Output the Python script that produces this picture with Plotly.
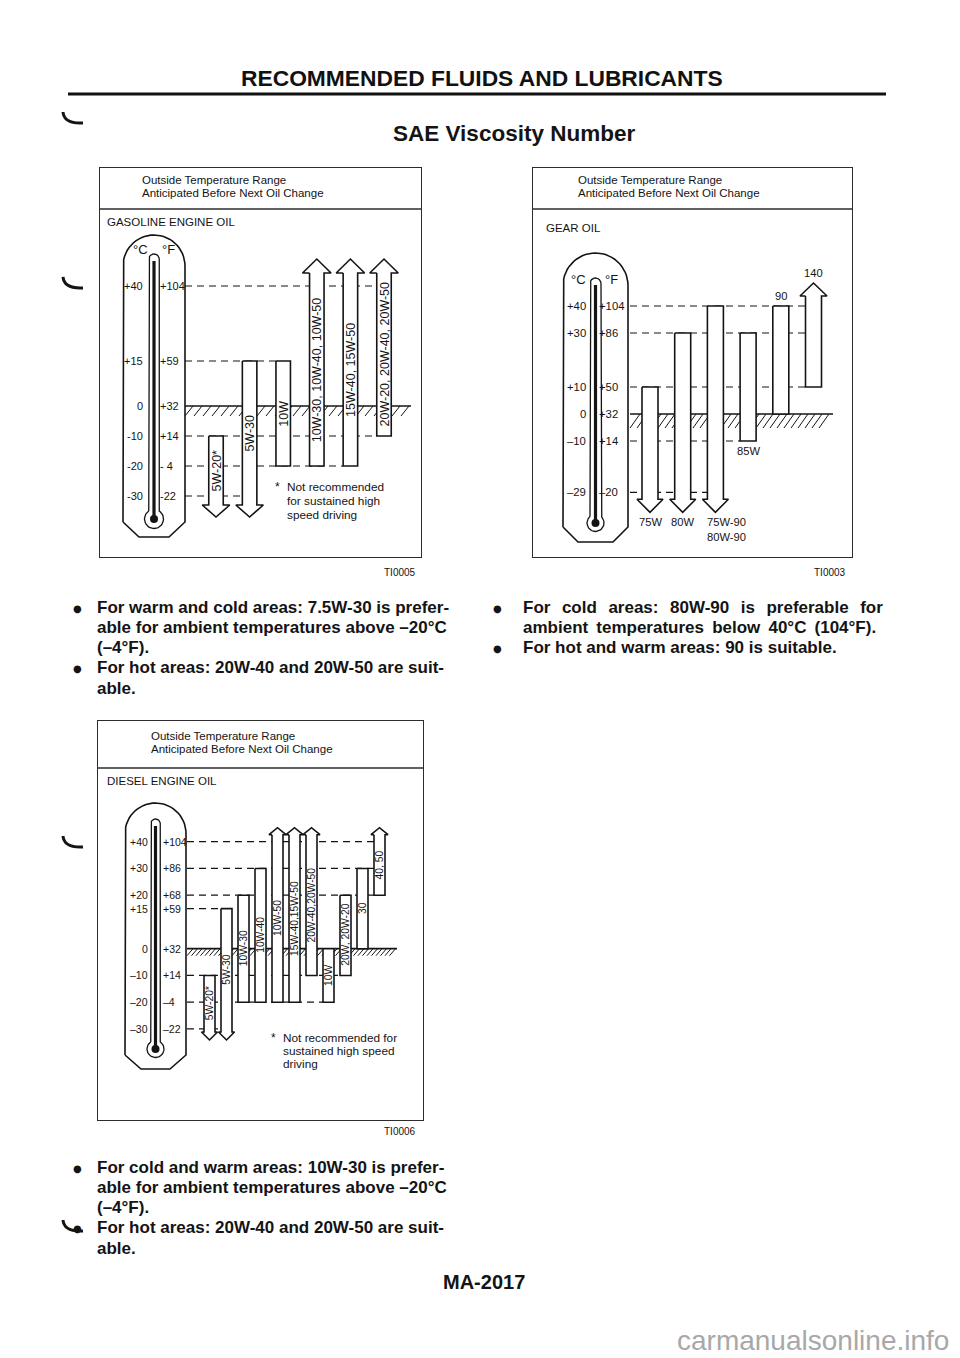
import math
import plotly.graph_objects as go

W, H = 960, 1358
OFF = 8  # the page body adds an 8px margin around the figure
SANS = "Liberation Sans, Arial, Helvetica, sans-serif"
INK = "#141414"

# ======================= DATA =======================
# Gasoline engine oil (temperatures in deg C)
gas_grades = ["5W-20*", "5W-30", "10W", "10W-30, 10W-40, 10W-50",
              "15W-40, 15W-50", "20W-20, 20W-40, 20W-50"]
gas_low_c = [-30, -30, -20, -20, -20, -10]
gas_high_c = [-10, 15, 15, 40, 40, 40]
gas_open_low = [True, True, False, False, False, False]
gas_open_high = [False, False, False, True, True, True]
gas_scale_c = [40, 15, 0, -10, -20, -30]
gas_scale_c_labels = ["+40", "+15", "0", "-10", "-20", "-30"]
gas_scale_f_labels = ["+104", "+59", "+32", "+14", "- 4", "-22"]

# Gear oil
gear_grades = ["75W", "80W", "75W-90<br>80W-90", "85W", "90", "140"]
gear_low_c = [-29, -29, -29, -10, 0, 10]
gear_high_c = [10, 30, 40, 30, 40, 40]
gear_open_low = [True, True, True, False, False, False]
gear_open_high = [False, False, False, False, False, True]
gear_scale_c = [40, 30, 10, 0, -10, -29]
gear_scale_c_labels = ["+40", "+30", "+10", "0", "\u201310", "\u201329"]
gear_scale_f_labels = ["+104", "+86", "+50", "+32", "+14", "\u201320"]

# Diesel engine oil
dsl_grades = ["5W-20*", "5W-30", "10W-30", "10W-40", "10W-50", "15W-40,15W-50",
              "20W-40,20W-50", "10W", "20W, 20W-20", "30", "40, 50"]
dsl_low_c = [-30, -30, -20, -20, -20, -20, -10, -20, -10, 0, 20]
dsl_high_c = [-10, 15, 20, 30, 40, 40, 40, 0, 20, 30, 40]
dsl_open_low = [True, True, False, False, False, False, False, False, False, False, False]
dsl_open_high = [False, False, False, False, True, True, True, False, False, False, True]
dsl_scale_c = [40, 30, 20, 15, 0, -10, -20, -30]
dsl_scale_c_labels = ["+40", "+30", "+20", "+15", "0", "\u201310", "\u201320", "\u201330"]
dsl_scale_f_labels = ["+104", "+86", "+68", "+59", "+32", "+14", "\u20134", "\u201322"]

# Texts
page_title = "RECOMMENDED FLUIDS AND LUBRICANTS"
section_title = "SAE Viscosity Number"
box_caption = ["Outside Temperature Range", "Anticipated Before Next Oil Change"]
gas_title, gear_title, dsl_title = "GASOLINE ENGINE OIL", "GEAR OIL", "DIESEL ENGINE OIL"
gas_code, gear_code, dsl_code = "TI0005", "TI0003", "TI0006"
gas_footnote = ["Not recommended", "for sustained high", "speed driving"]
dsl_footnote = ["Not recommended for", "sustained high speed", "driving"]
gas_notes = ["For warm and cold areas: 7.5W-30 is prefer-",
             "able for ambient temperatures above \u201320\u00b0C",
             "(\u20134\u00b0F).",
             "For hot areas: 20W-40 and 20W-50 are suit-",
             "able."]
gas_bullets = [True, False, False, True, False]
T2 = " \u2009\u2009"
gear_notes = ["For" + T2 + "cold" + T2 + "areas:" + T2 + "80W-90" + T2 + "is" + T2 + "preferable" + T2 + "for",
              "ambient\u2009 temperatures\u2009 below\u2009 40\u00b0C\u2009 (104\u00b0F).",
              "For hot and warm areas: 90 is suitable."]
gear_bullets = [True, False, True]
dsl_notes = ["For cold and warm areas: 10W-30 is prefer-",
             "able for ambient temperatures above \u201320\u00b0C",
             "(\u20134\u00b0F).",
             "For hot areas: 20W-40 and 20W-50 are suit-",
             "able."]
dsl_bullets = [True, False, False, True, False]
page_number = "MA-2017"
watermark = "carmanualsonline.info"

# ======================= FIGURE =======================
fig = go.Figure()
annotations = []
shapes = []


def fx(x):
    return (x - OFF) / W


def fy(y):
    return 1 - (y - OFF) / H


def note(x, y, text, size=12, xanchor="center", yanchor="middle", family=SANS,
         color=INK, angle=0, xref="paper", yref="paper", align="center"):
    if xref == "paper":
        x = fx(x)
    if yref == "paper":
        y = fy(y)
    annotations.append(dict(x=x, y=y, xref=xref, yref=yref, text=text, showarrow=False,
                            xanchor=xanchor, yanchor=yanchor, textangle=angle, align=align,
                            borderpad=0, font=dict(family=family, size=size, color=color)))


def pline(x0, y0, x1, y1, width=1.4, color=INK):
    shapes.append(dict(type="line", xref="paper", yref="paper", x0=fx(x0), y0=fy(y0),
                       x1=fx(x1), y1=fy(y1), line=dict(color=color, width=width)))


def ppath(pts, width=3, color=INK):
    (a, b), (c, d), (e, f) = pts
    path = "M %f %f Q %f %f %f %f" % (fx(a), fy(b), fx(c), fy(d), fx(e), fy(f))
    shapes.append(dict(type="path", xref="paper", yref="paper", path=path,
                       line=dict(color=color, width=width)))


class Panel:
    def __init__(self, n, box, y0, k, c0, s):
        self.n = n
        self.y0, self.k, self.c0, self.s = y0, k, c0, s
        self.xr = "x" if n == 1 else "x%d" % n
        self.yr = "y" if n == 1 else "y%d" % n
        L, T, R, B = box
        ax = dict(showgrid=False, zeroline=False, showticklabels=False, ticks="",
                  showline=True, mirror=True, linecolor="#2c2c2c", linewidth=1.4,
                  fixedrange=True)
        xa = "xaxis" if n == 1 else "xaxis%d" % n
        ya = "yaxis" if n == 1 else "yaxis%d" % n
        fig.update_layout({xa: dict(domain=[fx(L), fx(R)], range=[self.X(L), self.X(R)],
                                    anchor=self.yr, **ax),
                           ya: dict(domain=[fy(B), fy(T)], range=[self.Y(B), self.Y(T)],
                                    anchor=self.xr, **ax)})

    def X(self, xp):
        return (xp - self.c0) / self.s

    def Y(self, yp):
        return (self.y0 - yp) / self.k

    def ypx(self, t):
        return self.y0 - self.k * t

    def line(self, xs, ys, width=1.5, color=INK, dash=None, fill=None, fillcolor=None):
        fig.add_trace(go.Scatter(x=xs, y=ys, xaxis=self.xr, yaxis=self.yr, mode="lines",
                                 line=dict(color=color, width=width, dash=dash),
                                 fill=fill, fillcolor=fillcolor, hoverinfo="skip",
                                 showlegend=False))

    def pxline(self, pts, **kw):
        xs = [None if p is None else self.X(p[0]) for p in pts]
        ys = [None if p is None else self.Y(p[1]) for p in pts]
        self.line(xs, ys, **kw)

    def text(self, x, y, t, size, **kw):
        note(x, y, t, size=size, xref=self.xr, yref=self.yr, **kw)

    def thermometer(self, L, R, top, cham, bottom, inset, tw, ttop, by, br, dot):
        cx = (L + R) / 2.0
        r = (R - L) / 2.0
        pts = [(L, cham), (L, top + r)]
        for j in range(1, 30):
            th = math.pi - math.pi * j / 30
            pts.append((cx + r * math.cos(th), top + r - r * math.sin(th)))
        pts += [(R, top + r), (R, cham), (R - inset, bottom), (L + inset, bottom), (L, cham)]
        self.pxline(pts, width=1.6)
        hw = tw / 2.0
        tl, tr = cx - hw, cx + hw
        d = math.sqrt(max(br * br - hw * hw, 0))
        pts = [(tl, by - d), (tl, ttop + hw)]
        for j in range(1, 12):
            th = math.pi - math.pi * j / 12
            pts.append((cx + hw * math.cos(th), ttop + hw - hw * math.sin(th)))
        pts += [(tr, ttop + hw), (tr, by - d)]
        a0 = math.atan2(-d, hw)
        a1 = math.atan2(-d, -hw) + 2 * math.pi
        for j in range(1, 40):
            a = a0 + (a1 - a0) * j / 40
            pts.append((cx + br * math.cos(a), by + br * math.sin(a)))
        pts.append((tl, by - d))
        self.pxline(pts, width=1.3)
        self.pxline([(cx, ttop + 7), (cx, by)], width=3.2)
        fig.add_trace(go.Scatter(x=[self.X(cx)], y=[self.Y(by)], xaxis=self.xr, yaxis=self.yr,
                                 mode="markers", marker=dict(color=INK, size=2 * dot),
                                 hoverinfo="skip", showlegend=False))

    def scale_labels(self, temps, clabs, flabs, cx_right, fx_left, size):
        for t, a, b in zip(temps, clabs, flabs):
            self.text(self.X(cx_right), t, a, size, xanchor="right")
            self.text(self.X(fx_left), t, b, size, xanchor="left")

    def guides(self, temps, ends, x_from, bw, dash="7px,5px"):
        for t, e in zip(temps, ends):
            if e is None:
                continue
            self.line([self.X(x_from), e - bw / 2.0 / self.s], [t, t], width=1.2, dash=dash)

    def hatch(self, x_from, x_to, band, step, slant):
        yb = self.ypx(0)
        pts = []
        x = x_from
        while x + slant <= x_to:
            pts += [(x, yb + band), (x + slant, yb), None]
            x += step
        self.pxline(pts, width=1.0)
        self.pxline([(x_from, yb), (x_to, yb)], width=1.7)

    def bars(self, low, high, olow, ohigh, bw, up, down):
        w = bw / 2.0 / self.s
        spans = []
        for i, (lo, hi, ol, oh) in enumerate(zip(low, high, olow, ohigh)):
            if oh:
                ysh = hi + up[0] / self.k
                tip = ysh + up[1] / self.k
                hw = (bw / 2.0 + up[2]) / self.s
                pts = [(i - w, ysh), (i - hw, ysh), (i, tip), (i + hw, ysh), (i + w, ysh)]
                top_sh = ysh
            else:
                pts = [(i - w, hi), (i + w, hi)]
                top_sh = hi
            if ol:
                ysh = lo - down[0] / self.k
                tip = ysh - down[1] / self.k
                hw = (bw / 2.0 + down[2]) / self.s
                pts += [(i + w, ysh), (i + hw, ysh), (i, tip), (i - hw, ysh), (i - w, ysh)]
                bot_sh = ysh
            else:
                pts += [(i + w, lo), (i - w, lo)]
                bot_sh = lo
            pts.append(pts[0])
            self.line([p[0] for p in pts], [p[1] for p in pts], width=1.6,
                      fill="toself", fillcolor="white")
            spans.append((bot_sh, top_sh))
        return spans


def box_frame(L, R, div_y, caption_x, cap_y, title, title_xy, code, code_xy):
    pline(L, div_y, R, div_y, width=1.4, color="#2c2c2c")
    note(caption_x, cap_y, box_caption[0], size=11.5, xanchor="left")
    note(caption_x, cap_y + 13, box_caption[1], size=11.5, xanchor="left")
    note(title_xy[0], title_xy[1], title, size=11.5, xanchor="left")
    note(code_xy[0], code_xy[1], code, size=10, xanchor="center")


# ---------------- Gasoline panel ----------------
gas = Panel(1, (100, 168, 421, 557), y0=406, k=3.0, c0=216, s=33.6)
box_frame(100, 421, 209, 141, 180, gas_title, (106, 222), gas_code, (400, 572))
gas.guides(gas_scale_c, [5, 2, None, 5, 4, 1], 185, 14.5)
gas.hatch(185, 411, 10, 9, 8)
spans = gas.bars(gas_low_c, gas_high_c, gas_open_low, gas_open_high, 14.5,
                 up=(13, 14, 7), down=(9, 12, 6.5))
for i, (g, (b, t)) in enumerate(zip(gas_grades, spans)):
    gas.text(i, (b + t) / 2.0, g, 12.5, angle=-90)
gas.thermometer(123, 185, 235, 522, 537, 16, 10.5, 254, 519, 9.5, 4)
gas.scale_labels(gas_scale_c, gas_scale_c_labels, gas_scale_f_labels, 144, 159, 11)
note(140, 249, "\u00b0C", size=13)
note(168, 249, "\u00b0F", size=13)
note(277, 487, "*", size=12)
for j, ln in enumerate(gas_footnote):
    note(286, 487 + 14 * j, ln, size=11.8, xanchor="left")

# ---------------- Gear panel ----------------
gear = Panel(2, (533, 168, 852, 557), y0=414, k=2.7, c0=650, s=32.7)
box_frame(533, 852, 209, 577, 180, gear_title, (545, 228), gear_code, (830, 572))
gear.guides(gear_scale_c, [5, 5, 5, None, 3, 2], 630, 16)
gear.hatch(630, 833, 14, 7, 10)
spans = gear.bars(gear_low_c, gear_high_c, gear_open_low, gear_open_high, 16,
                  up=(10, 13, 5.5), down=(7, 13, 5))
gear_label_side = ["below", "below", "below", "below", "above", "above"]
gear_label_anchor = ["center", "center", "left", "center", "center", "center"]
for i, (g, (b, t), side, anc, ol, oh) in enumerate(zip(gear_grades, spans, gear_label_side,
                                                        gear_label_anchor, gear_open_low,
                                                        gear_open_high)):
    xi = i if anc == "center" else i - 9.5 / gear.s
    if side == "below":
        yb = gear.ypx(b) + (13 if ol else 0) + 3
        gear.text(xi, gear.Y(yb), g, 11.2, yanchor="top", xanchor=anc, align=anc)
    else:
        yt = gear.ypx(t) - (13 if oh else 0) - 3
        gear.text(xi, gear.Y(yt), g, 11.2, yanchor="bottom", xanchor=anc, align=anc)
gear.thermometer(563, 628, 253, 527, 542, 15, 11, 278, 523, 8.5, 4)
gear.scale_labels(gear_scale_c, gear_scale_c_labels, gear_scale_f_labels, 587, 598, 11.3)
note(578, 280, "\u00b0C", size=13)
note(611, 280, "\u00b0F", size=13)

# ---------------- Diesel panel ----------------
dsl = Panel(3, (98, 721, 423, 1120), y0=948.7, k=2.675, c0=209.5, s=17)
box_frame(98, 423, 768, 150, 736, dsl_title, (106, 781), dsl_code, (400, 1131))
dsl.guides(dsl_scale_c, [10, 10, 10, 1, None, 8, 7, 1], 187, 11)
dsl.hatch(187, 397, 7, 4.5, 6)
spans = dsl.bars(dsl_low_c, dsl_high_c, dsl_open_low, dsl_open_high, 11,
                 up=(7, 7, 3), down=(3, 8, 2.5))
for i, (g, (b, t)) in enumerate(zip(dsl_grades, spans)):
    dsl.text(i, (b + t) / 2.0, g, 10.3, angle=-90)
dsl.thermometer(125, 186, 803, 1055, 1069, 16, 9.5, 819, 1049, 8.5, 4)
dsl.scale_labels(dsl_scale_c, dsl_scale_c_labels, dsl_scale_f_labels, 149, 162, 10.5)
note(273, 1038, "*", size=12)
for j, ln in enumerate(dsl_footnote):
    note(282, 1038 + 13 * j, ln, size=11.8, xanchor="left")

# ---------------- Page text ----------------
note(482, 78, "<b>%s</b>" % page_title, size=22.8, color="#111")
pline(68, 94, 886, 94, width=3, color="#111")
note(514, 133, "<b>%s</b>" % section_title, size=22.5)


def body(lines, bullets, x_text, x_bullet, y_first, step):
    for j, (ln, b) in enumerate(zip(lines, bullets)):
        y = y_first + step * j
        note(x_text, y, "<b>%s</b>" % ln, size=17, xanchor="left")
        if b:
            note(x_bullet, y + 1, "\u25cf", size=10, family="DejaVu Sans")


body(gas_notes, gas_bullets, 96, 77, 607, 20.3)
body(gear_notes, gear_bullets, 522, 497, 607, 20.3)
body(dsl_notes, dsl_bullets, 96, 77, 1167, 20.3)
note(484, 1282, "<b>%s</b>" % page_number, size=20)
note(950, 1340, watermark, size=28, color="#a8a8a8", xanchor="right")

for yb in [124, 289, 848, 1232]:
    ppath([(63, yb - 12), (64, yb), (83, yb - 1)], width=3)

fig.update_layout(width=W, height=H, margin=dict(l=0, r=0, t=0, b=0), autosize=False,
                  paper_bgcolor="white", plot_bgcolor="rgba(0,0,0,0)",
                  annotations=annotations, shapes=shapes, showlegend=False)
fig.write_html("out.html")
